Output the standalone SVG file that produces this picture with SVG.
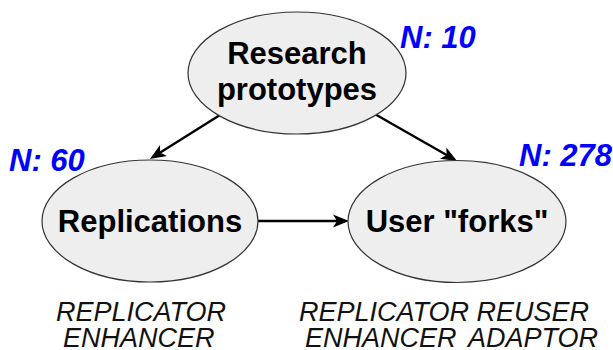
<svg xmlns="http://www.w3.org/2000/svg" width="613" height="350" viewBox="0 0 613 350">
  <style>
    .node ellipse { fill: #eeeeee; stroke: #333333; stroke-width: 1.2; }
    .label { font-family: "Liberation Sans", Arial, sans-serif; font-weight: bold; font-size: 31px; fill: #000000; text-anchor: middle; }
    .count { font-family: "Liberation Sans", Arial, sans-serif; font-weight: bold; font-style: italic; font-size: 31px; fill: #0000ff; }
    .role { font-family: "Liberation Sans", Arial, sans-serif; font-style: italic; font-size: 27px; fill: #111111; }
    .edge { stroke: #000000; stroke-width: 2.4; fill: none; marker-end: url(#arrow); }
  </style>
  <defs>
    <marker id="arrow" markerUnits="userSpaceOnUse" viewBox="-9 -7 18 14" markerWidth="18" markerHeight="14" refX="0" refY="0" orient="auto">
      <path d="M8,0 L-8,-6.5 L-4,0 L-8,6.5 Z" fill="#000000"/>
    </marker>
  </defs>

  <rect width="613" height="350" fill="#ffffff"/>

  <!-- connectors -->
  <g id="edges">
    <line class="edge" x1="220" y1="115" x2="156.7" y2="154.7"/>
    <line class="edge" x1="373" y1="113" x2="450.1" y2="157"/>
    <line class="edge" x1="258" y1="221" x2="341" y2="221"/>
  </g>

  <!-- nodes -->
  <g id="research" class="node">
    <ellipse cx="297" cy="73" rx="109" ry="61"/>
    <text class="label" x="297" y="64">Research</text>
    <text class="label" x="297" y="100">prototypes</text>
  </g>
  <g id="replications" class="node">
    <ellipse cx="150" cy="221" rx="108" ry="61"/>
    <text class="label" x="150" y="232">Replications</text>
  </g>
  <g id="forks" class="node">
    <ellipse cx="457" cy="221.5" rx="109" ry="61"/>
    <text class="label" x="457" y="232">User "forks"</text>
  </g>

  <!-- counts -->
  <text class="count" x="400" y="48">N: 10</text>
  <text class="count" x="9" y="171">N: 60</text>
  <text class="count" x="519" y="166">N: 278</text>

  <!-- roles -->
  <g id="roles-replications">
    <text class="role" x="56" y="321">REPLICATOR</text>
    <text class="role" x="63" y="347">ENHANCER</text>
  </g>
  <g id="roles-forks">
    <text class="role" x="299" y="321">REPLICATOR REUSER</text>
    <text class="role" x="305" y="347">ENHANCER <tspan x="468">ADAPTOR</tspan></text>
  </g>
</svg>
